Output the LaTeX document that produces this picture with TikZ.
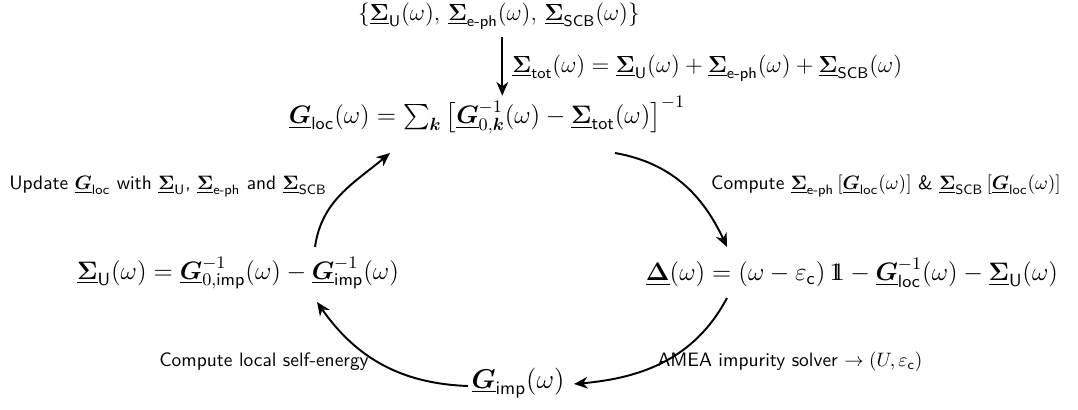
\documentclass[tikz,border=0pt]{standalone}
\usepackage{fix-cm}
\usepackage{amsmath,amssymb,bm}
\usetikzlibrary{arrows.meta}
\newcommand{\uSig}{\underline{\boldsymbol{\Sigma}}}
\newcommand{\uG}{\underline{\boldsymbol{G}}}
\newcommand{\uDel}{\underline{\boldsymbol{\Delta}}}
\newcommand{\sbs}[1]{\text{\sffamily #1}}
\newcommand{\idone}{\mathrm{1}\kern-0.38em\mathrm{1}}
\begin{document}
\begin{tikzpicture}[x=0.515pt,y=0.515pt,
  arr/.style={line width=1pt,-{Stealth[length=7pt,width=6pt,inset=2.2pt]}},
  lbl/.style={inner sep=0pt,font=\sffamily},
  eq/.style={inner sep=0pt,font=\fontsize{12}{14}\selectfont},
  eqb/.style={inner sep=0pt,font=\fontsize{13}{15}\selectfont},
  eqc/.style={inner sep=0pt,font=\fontsize{14}{16}\selectfont}]
\useasboundingbox (0,0) rectangle (1078,409);
\node[eq] (top) at (499,393) {$\{\uSig_{\sbs{U}}(\omega),\, \uSig_{\sbs{e-ph}}(\omega),\, \uSig_{\sbs{SCB}}(\omega)\}$};
\node[eq,anchor=west] (tot) at (512,341) {$\uSig_{\sbs{tot}}(\omega)=\uSig_{\sbs{U}}(\omega)+\uSig_{\sbs{e-ph}}(\omega)+\uSig_{\sbs{SCB}}(\omega)$};
\node[eqb] (loc) at (487,294) {$\uG_{\sbs{loc}}(\omega)=\sum_{\boldsymbol{k}}\left[\uG^{-1}_{0,\boldsymbol{k}}(\omega)-\uSig_{\sbs{tot}}(\omega)\right]^{-1}$};
\node[lbl] (upd) at (168,222) {Update $\uG_{\sbs{loc}}$ with $\uSig_{\sbs{U}}$, $\uSig_{\sbs{e-ph}}$ and $\uSig_{\sbs{SCB}}$};
\node[lbl] (cmp) at (886,223) {Compute $\uSig_{\sbs{e-ph}}\left[\uG_{\sbs{loc}}(\omega)\right]$ \& $\uSig_{\sbs{SCB}}\left[\uG_{\sbs{loc}}(\omega)\right]$};
\node[eqb] (sigU) at (238,136) {$\uSig_{\sbs{U}}(\omega)=\uG^{-1}_{0,\sbs{imp}}(\omega)-\uG^{-1}_{\sbs{imp}}(\omega)$};
\node[eqb] (delta) at (852,136) {$\uDel(\omega)=(\omega-\varepsilon_{\sbs{c}})\,\idone-\uG^{-1}_{\sbs{loc}}(\omega)-\uSig_{\sbs{U}}(\omega)$};
\node[lbl] (local) at (264,47) {Compute local self-energy};
\node[lbl] (amea) at (790,47) {AMEA impurity solver $\to (U,\varepsilon_{\sbs{c}})$};
\node[eqc] (gimp) at (518,26) {$\uG_{\sbs{imp}}(\omega)$};
% connector ends
\coordinate (a1s) at (615,256);
\coordinate (a1e) at (727,162);
\coordinate (a2s) at (727,111);
\coordinate (a2e) at (574,25);
\coordinate (a3s) at (468,23);
\coordinate (a3e) at (317,107);
\coordinate (a4s) at (315,162);
\coordinate (a4e) at (390,256);
\draw[arr,shorten <=4pt] ([xshift=-5pt]top.south -| tot.west) -- ([xshift=-5pt]loc.north -| tot.west);
\draw[arr] (a1s) to[out=-10,in=115] (a1e);
\draw[arr] (a2s) to[out=-118,in=5] (a2e);
\draw[arr] (a3s) to[out=178,in=-55] (a3e);
\draw[arr] (a4s) to[out=82,in=-140] (a4e);
\end{tikzpicture}
\end{document}
